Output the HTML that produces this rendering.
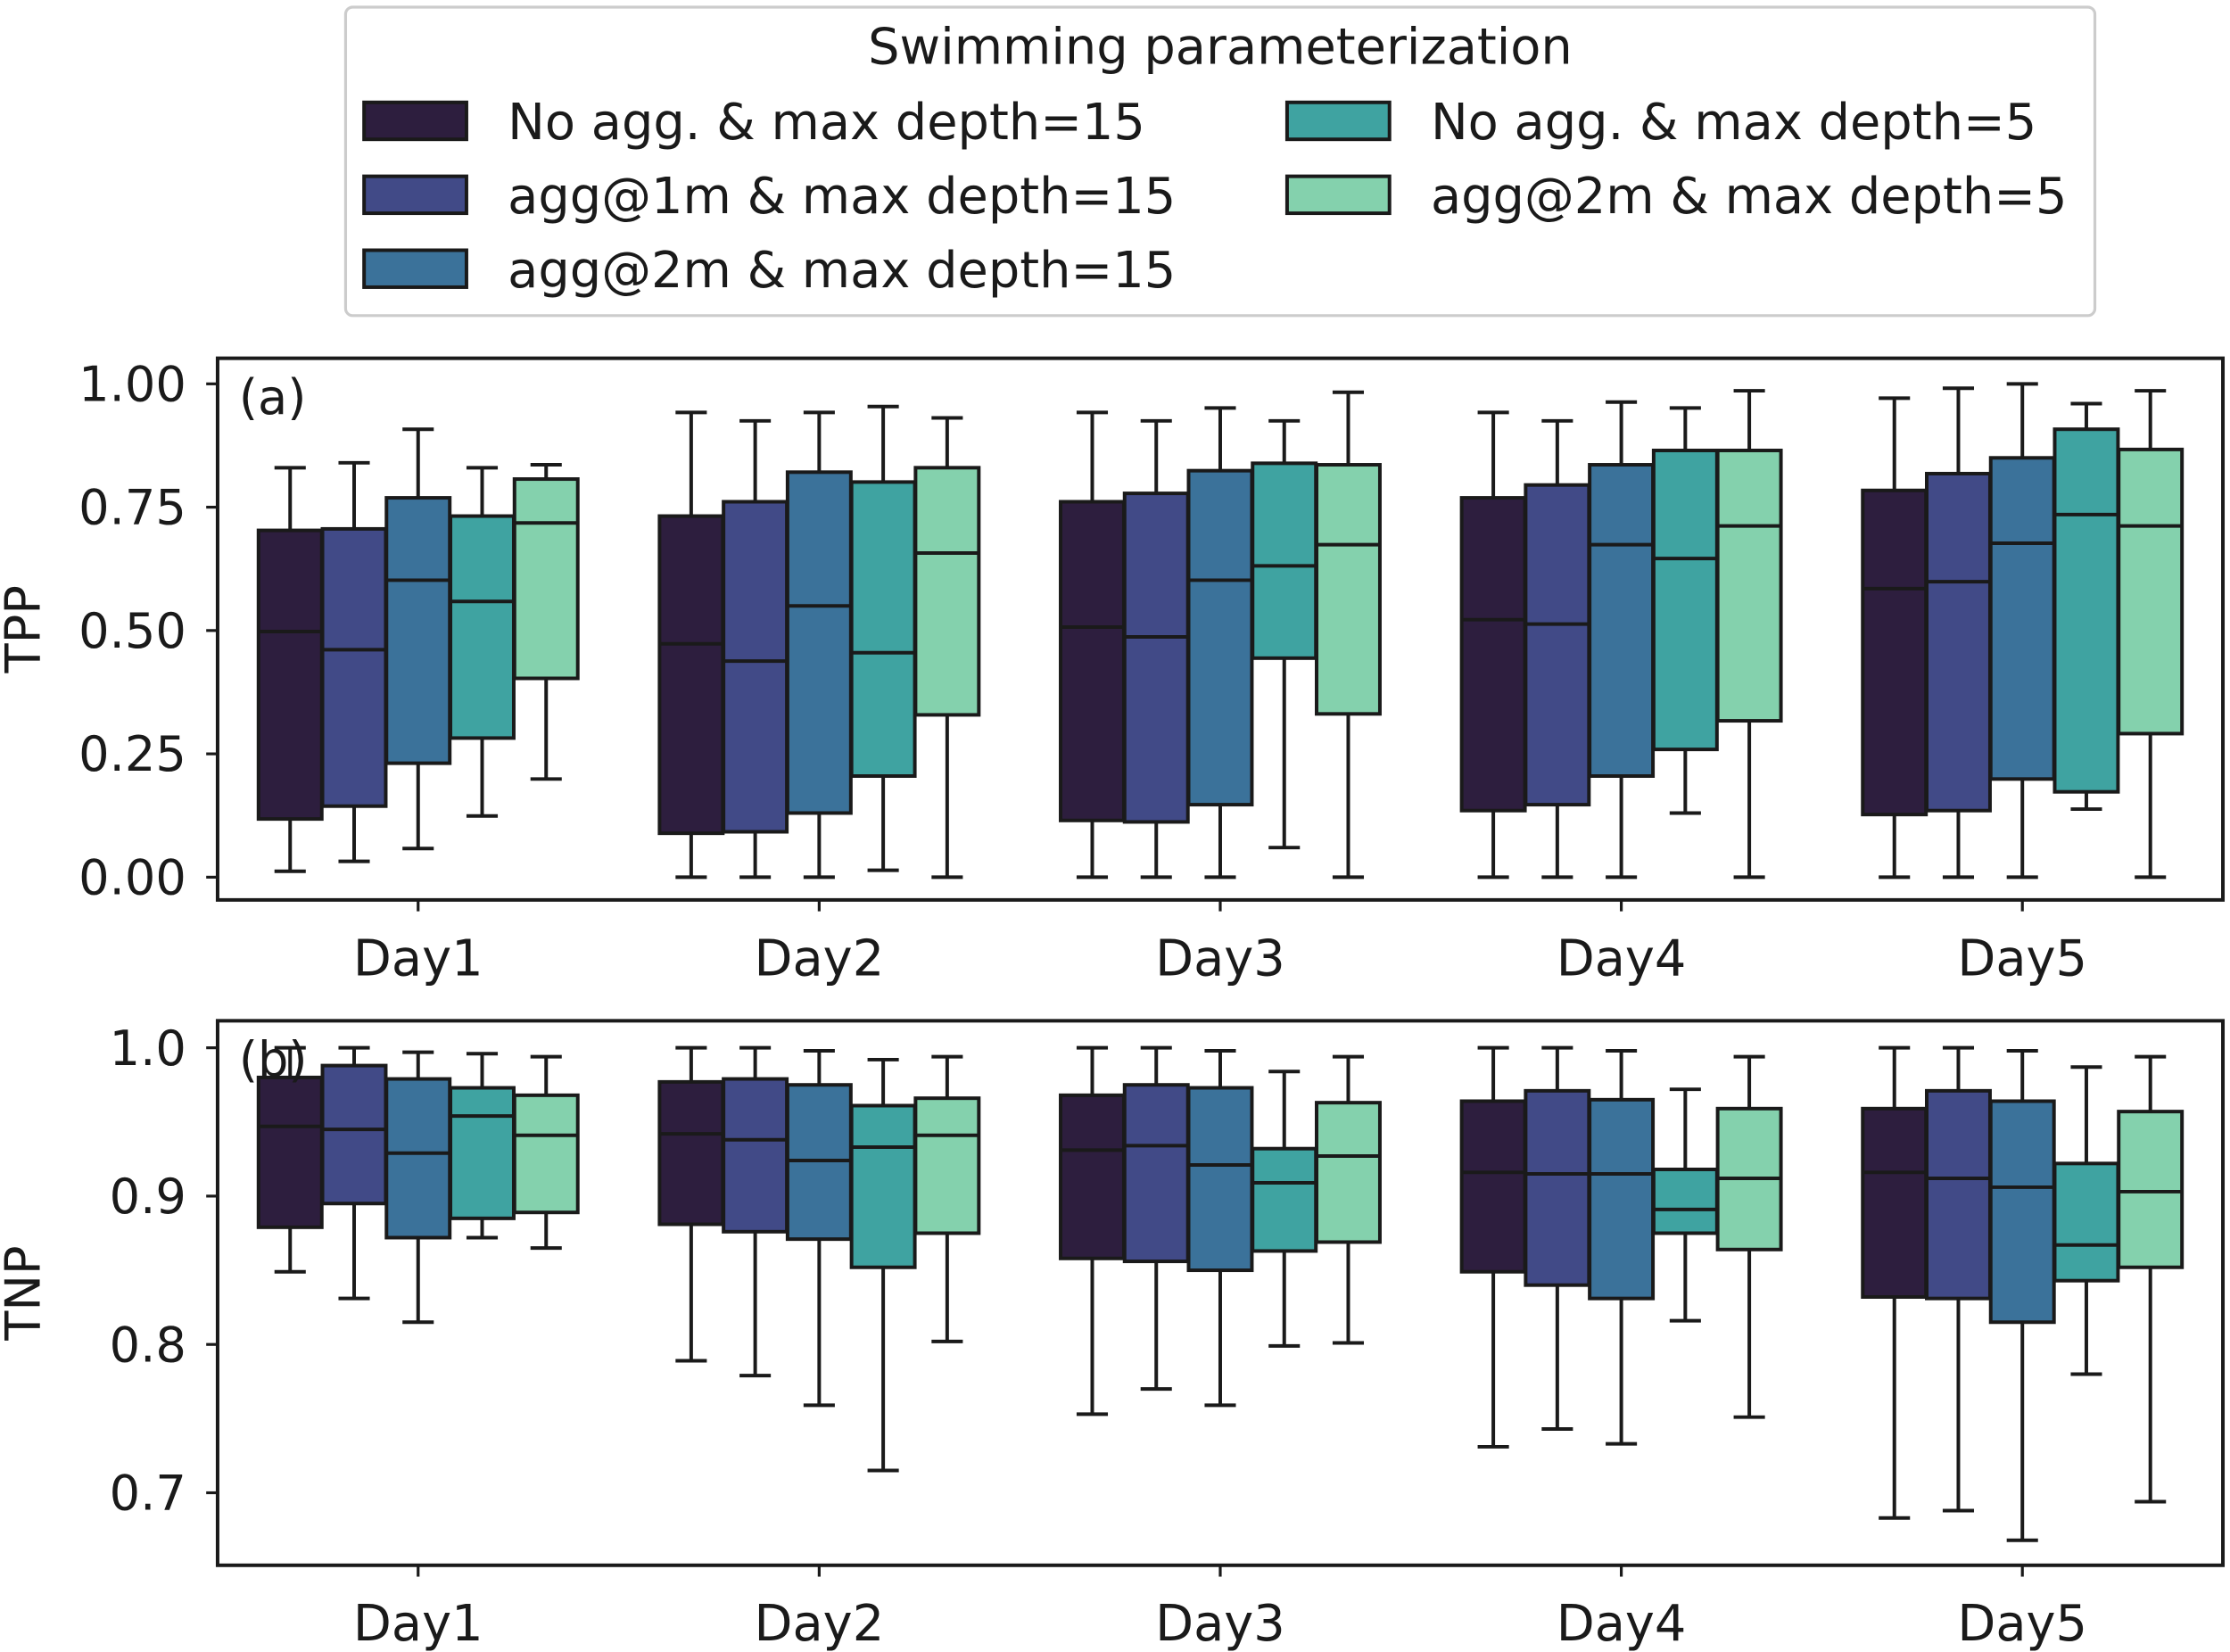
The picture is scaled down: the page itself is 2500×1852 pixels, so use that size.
<!DOCTYPE html>
<html><head><meta charset="utf-8"><style>html,body{margin:0;padding:0;background:#fff}svg{display:block}text{font-family:"DejaVu Sans","Liberation Sans",sans-serif;fill:#1a1a1a}</style></head>
<body>
<svg id="chart" width="2500" height="1852" viewBox="0 0 1568 1162" preserveAspectRatio="none" xmlns="http://www.w3.org/2000/svg">
<g>
<rect x="243" y="5" width="1230" height="217" rx="5" fill="#fff" stroke="#ccc" stroke-width="2"/>
<text x="858" y="45" font-size="35" text-anchor="middle">Swimming parameterization</text>
</g>
<g id="plots"></g>
</svg>
<script>
const days = ["Day1","Day2","Day3","Day4","Day5"];
const seriesNames = ["No agg. & max depth=15","agg@1m & max depth=15","agg@2m & max depth=15","No agg. & max depth=5","agg@2m & max depth=5"];
const colors = ["#2d1e3e","#414a87","#3b729a","#3fa3a1","#84d1ad"];
// [low, q1, median, q3, high]
const tppDay1 = [[0.012,0.118,0.498,0.703,0.83],[0.032,0.144,0.461,0.706,0.84],[0.058,0.231,0.602,0.769,0.908],[0.124,0.282,0.559,0.732,0.83],[0.199,0.403,0.718,0.807,0.836]];
const tppDay2 = [[0,0.089,0.473,0.732,0.942],[0,0.092,0.438,0.761,0.925],[0,0.13,0.55,0.821,0.942],[0.014,0.205,0.455,0.801,0.954],[0,0.329,0.657,0.83,0.931]];
const tppDay3 = [[0,0.115,0.507,0.761,0.942],[0,0.112,0.487,0.778,0.925],[0,0.147,0.602,0.824,0.951],[0.06,0.444,0.631,0.839,0.925],[0,0.331,0.674,0.836,0.983]];
const tppDay4 = [[0,0.135,0.522,0.769,0.942],[0,0.147,0.513,0.795,0.925],[0,0.205,0.674,0.836,0.963],[0.13,0.259,0.646,0.865,0.951],[0,0.317,0.712,0.865,0.986]];
const tppDay5 = [[0,0.127,0.585,0.784,0.971],[0,0.135,0.599,0.818,0.991],[0,0.199,0.677,0.85,1.0],[0.138,0.173,0.735,0.908,0.96],[0,0.291,0.712,0.867,0.986]];
const tnpDay1 = [[0.849,0.879,0.947,0.98,1.0],[0.831,0.895,0.945,0.988,1.0],[0.815,0.872,0.929,0.979,0.997],[0.872,0.885,0.954,0.973,0.996],[0.865,0.889,0.941,0.968,0.994]];
const tnpDay2 = [[0.789,0.881,0.942,0.977,1.0],[0.779,0.876,0.938,0.979,1.0],[0.759,0.871,0.924,0.975,0.998],[0.715,0.852,0.933,0.961,0.992],[0.802,0.875,0.941,0.966,0.994]];
const tnpDay3 = [[0.753,0.858,0.931,0.968,1.0],[0.77,0.856,0.934,0.975,1.0],[0.759,0.85,0.921,0.973,0.998],[0.799,0.863,0.909,0.932,0.984],[0.801,0.869,0.927,0.963,0.994]];
const tnpDay4 = [[0.731,0.849,0.916,0.964,1.0],[0.743,0.84,0.915,0.971,1.0],[0.733,0.831,0.915,0.965,0.998],[0.816,0.875,0.891,0.918,0.972],[0.751,0.864,0.912,0.959,0.994]];
const tnpDay5 = [[0.683,0.832,0.916,0.959,1.0],[0.688,0.831,0.912,0.971,1.0],[0.668,0.815,0.906,0.964,0.998],[0.78,0.843,0.867,0.922,0.987],[0.694,0.852,0.903,0.957,0.994]];
const tppTicks = [0,0.25,0.5,0.75,1.0];
const tppTickLabels = ["0.00","0.25","0.50","0.75","1.00"];
const tnpTicks = [0.7,0.8,0.9,1.0];
const tnpTickLabels = ["0.7","0.8","0.9","1.0"];

const NS="http://www.w3.org/2000/svg";
const svg=document.getElementById('chart');
function mk(tag,attrs,parent){const e=document.createElementNS(NS,tag);for(const k in attrs)e.setAttribute(k,attrs[k]);(parent||svg).appendChild(e);return e;}

const legPos=[[256,72],[256,124],[256,176],[905,72],[905,124]];
seriesNames.forEach((n,i)=>{
  const r=mk('rect',{x:legPos[i][0],y:legPos[i][1],width:72,height:26,fill:colors[i],stroke:'#1a1a1a','stroke-width':2.5});
  
  
  const t=mk('text',{x:legPos[i][0]+101,y:legPos[i][1]+26,'font-size':35});
  t.textContent=n;
  
  
});

function panel(cfg){
  const {top,bottom,data,vmin,vmax,y0px,y1px,ticks,tickLabels,ylabel,tag,name}=cfg;
  const g=mk('g',{});
  
  
  const yS=v=>y0px+(v-vmin)/(vmax-vmin)*(y1px-y0px);
  const xL=153,xR=1563;
  const xC=i=>294+i*282;
  ticks.forEach((v,i)=>{
    mk('line',{x1:xL-8,x2:xL,y1:yS(v),y2:yS(v),stroke:'#1a1a1a','stroke-width':2},g);
    const t=mk('text',{x:xL-22,y:yS(v)+12,'font-size':34,'text-anchor':'end'},g);
    t.textContent=tickLabels[i];
    
    
  });
  days.forEach((d,i)=>{
    mk('line',{x1:xC(i),x2:xC(i),y1:bottom,y2:bottom+8,stroke:'#1a1a1a','stroke-width':2},g);
    const t=mk('text',{x:xC(i),y:bottom+53,'font-size':35,'text-anchor':'middle'},g);
    t.textContent=d;
    
    
  });
  data.forEach((dayData,di)=>{
    dayData.forEach((s,si)=>{
      const cx=xC(di)+(si-2)*45, w=44.5;
      const bg=mk('g',{},g);
      
      
      const [lo,q1,md,q3,hi]=s;
      mk('line',{x1:cx,x2:cx,y1:yS(hi),y2:yS(q3),stroke:'#1a1a1a','stroke-width':2.5},bg);
      mk('line',{x1:cx,x2:cx,y1:yS(q1),y2:yS(lo),stroke:'#1a1a1a','stroke-width':2.5},bg);
      mk('line',{x1:cx-11,x2:cx+11,y1:yS(hi),y2:yS(hi),stroke:'#1a1a1a','stroke-width':2.5},bg);
      mk('line',{x1:cx-11,x2:cx+11,y1:yS(lo),y2:yS(lo),stroke:'#1a1a1a','stroke-width':2.5},bg);
      mk('rect',{x:cx-w/2,y:yS(q3),width:w,height:yS(q1)-yS(q3),fill:colors[si],stroke:'#1a1a1a','stroke-width':2.5},bg);
      mk('line',{x1:cx-w/2,x2:cx+w/2,y1:yS(md),y2:yS(md),stroke:'#1a1a1a','stroke-width':2.5},bg);
    });
  });
  mk('rect',{x:xL,y:top,width:xR-xL,height:bottom-top,fill:'none',stroke:'#1a1a1a','stroke-width':2.5},g);
  const yl=mk('text',{x:0,y:0,'font-size':34,'text-anchor':'middle',transform:`translate(28,${(top+bottom)/2}) rotate(-90)`},g);
  yl.textContent=ylabel;
  
  
  const tg=mk('text',{x:168,y:top+39,'font-size':34},g);
  tg.textContent=tag;
  
  
}
panel({name:'panel-a-tpp',top:252,bottom:633,data:[tppDay1,tppDay2,tppDay3,tppDay4,tppDay5],vmin:0,vmax:1,y0px:617,y1px:270,ticks:tppTicks,tickLabels:tppTickLabels,ylabel:'TPP',tag:'(a)'});
panel({name:'panel-b-tnp',top:718,bottom:1101,data:[tnpDay1,tnpDay2,tnpDay3,tnpDay4,tnpDay5],vmin:0.7,vmax:1.0,y0px:1050,y1px:737,ticks:tnpTicks,tickLabels:tnpTickLabels,ylabel:'TNP',tag:'(b)'});
</script>
</body></html>
